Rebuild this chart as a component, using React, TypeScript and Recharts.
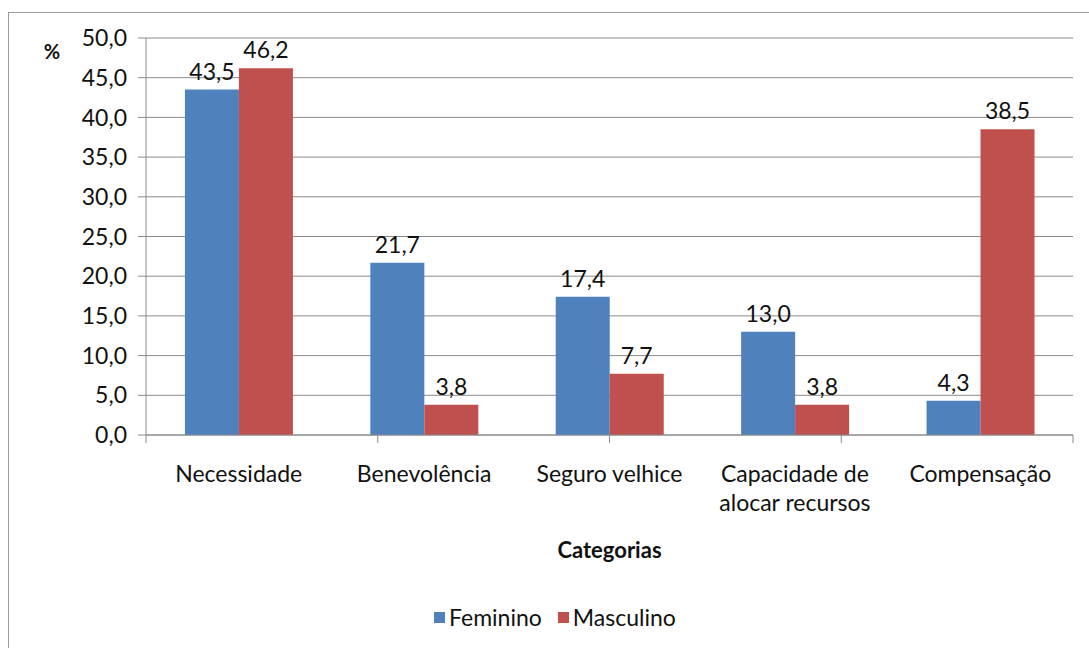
import React from 'react';
import { BarChart, Bar, XAxis, YAxis, CartesianGrid, Legend, LabelList } from 'recharts';

const categorias = ['Necessidade', 'Benevolência', 'Seguro velhice', 'Capacidade de\nalocar recursos', 'Compensação'];
const feminino = [43.5, 21.7, 17.4, 13.0, 4.3];
const masculino = [46.2, 3.8, 7.7, 3.8, 38.5];
const yTicks = [0, 5, 10, 15, 20, 25, 30, 35, 40, 45, 50];
const boundaryTicks = [0, 1, 2, 3, 4, 5];

const data = categorias.map((c, i) => ({
  name: c,
  Feminino: feminino[i],
  Masculino: masculino[i],
}));

const fmt = (v: any) => Number(v).toFixed(1).replace('.', ',');
const FONT = 'Lato, "Noto Sans", sans-serif';
const GRID = '#8a8a8a';
const FS = 23;

const CategoryTick = (props: any) => {
  const { x, y, payload } = props;
  const lines = String(payload.value).split('\n');
  return (
    <text x={x} y={y + 38} textAnchor="middle" fill="#111" fontSize={FS} fontFamily={FONT}>
      {lines.map((l, i) => (
        <tspan key={i} x={x} dy={i === 0 ? 0 : 29}>{l}</tspan>
      ))}
    </text>
  );
};

// small tick marks at the category boundaries
const BoundaryTick = (props: any) => {
  const { x, y } = props;
  return <line x1={x} x2={x} y1={y - 4} y2={y + 4} stroke={GRID} strokeWidth={1} />;
};

const renderLegend = (props: any) => {
  const { payload } = props;
  return (
    <div style={{ display: 'flex', alignItems: 'center', fontFamily: FONT, fontSize: FS, color: '#111' }}>
      {payload.map((p: any, i: number) => (
        <div key={i} style={{ display: 'flex', alignItems: 'center', marginRight: 16 }}>
          <span style={{ display: 'inline-block', width: 11, height: 11, background: p.color, marginRight: 4 }} />
          <span>{p.value}</span>
        </div>
      ))}
    </div>
  );
};

export default function App() {
  return (
    <div style={{ position: 'absolute', left: 0, top: 0, width: 1089, height: 648, overflow: 'hidden', background: '#fff', fontFamily: FONT }}>
      <div style={{ position: 'absolute', left: 8, top: 12, width: 1200, height: 800, border: '1px solid #9a9a9a' }} />
      <BarChart
        width={1089}
        height={648}
        data={data}
        margin={{ top: 38, right: 16, left: 8, bottom: 35 }}
        barCategoryGap="21%"
        barGap={0}
        style={{ fontFamily: FONT }}
      >
        <CartesianGrid vertical={false} xAxisId="c" stroke={GRID} strokeWidth={1} />
        <XAxis
          xAxisId="a"
          type="number"
          domain={[0, 5]}
          allowDataOverflow
          ticks={boundaryTicks}
          interval={0}
          tick={<BoundaryTick />}
          tickLine={false}
          tickMargin={0}
          tickSize={4}
          height={1}
          stroke={GRID}
        />
        <XAxis
          xAxisId="c"
          dataKey="name"
          height={149}
          axisLine={false}
          tickLine={false}
          interval={0}
          tick={<CategoryTick />}
          label={(p: any) => {
            const vb = p.viewBox;
            return (
              <text x={vb.x + vb.width / 2} y={vb.y + 122} textAnchor="middle" fontWeight="bold" fontSize={FS - 1} fill="#111" fontFamily={FONT}>
                Categorias
              </text>
            );
          }}
        />
        <YAxis
          width={138}
          domain={[0, 50]}
          ticks={yTicks}
          tickFormatter={fmt}
          stroke={GRID}
          tickSize={8}
          tickMargin={11}
          tick={{ fill: '#111', fontSize: FS, fontFamily: FONT }}
          label={(p: any) => {
            const vb = p.viewBox;
            return (
              <text x={vb.x + 44} y={vb.y + 21} textAnchor="middle" fontWeight="bold" fontSize={20} fill="#111" fontFamily={FONT}>
                %
              </text>
            );
          }}
        />
        <Legend
          verticalAlign="bottom"
          content={renderLegend}
          wrapperStyle={{ left: 434, top: 603, bottom: 'auto', width: 'auto' }}
        />
        <Bar dataKey="Feminino" xAxisId="c" fill="#4F81BD" isAnimationActive={false}>
          <LabelList dataKey="Feminino" position="top" offset={10} formatter={fmt} fill="#111" fontSize={FS} fontFamily={FONT} />
        </Bar>
        <Bar dataKey="Masculino" xAxisId="c" fill="#C0504D" isAnimationActive={false}>
          <LabelList dataKey="Masculino" position="top" offset={10} formatter={fmt} fill="#111" fontSize={FS} fontFamily={FONT} />
        </Bar>
      </BarChart>
    </div>
  );
}
